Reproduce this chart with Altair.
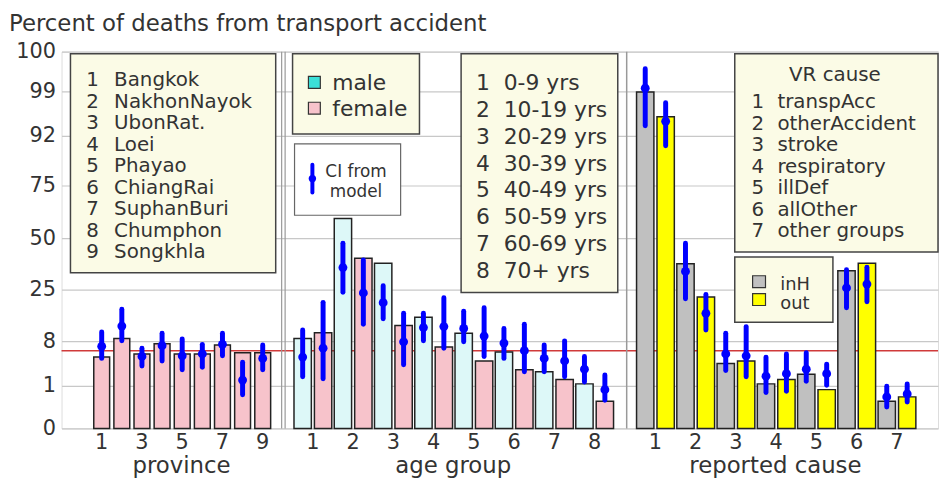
import altair as alt
import pandas as pd

# ---------------- data (percent of deaths from transport accident) ----------------
provinces = ["Bangkok", "NakhonNayok", "UbonRat.", "Loei", "Phayao",
             "ChiangRai", "SuphanBuri", "Chumphon", "Songkhla"]
prov_pct = [5.5, 8.9, 6.0, 7.6, 6.0, 6.0, 7.4, 6.2, 6.2]
prov_est = [7.2, 13.0, 5.6, 7.3, 5.7, 6.0, 7.5, 1.9, 5.3]
prov_lo = [5.3, 8.1, 4.1, 4.9, 3.5, 3.9, 5.7, 0.79, 3.5]
prov_hi = [11.0, 18.5, 6.9, 10.6, 8.7, 7.5, 10.6, 4.7, 7.4]

age_groups = ["0-9 yrs", "10-19 yrs", "20-29 yrs", "30-39 yrs",
              "40-49 yrs", "50-59 yrs", "60-69 yrs", "70+ yrs"]
male_pct = [8.9, 59.3, 37.8, 15.9, 10.6, 6.3, 3.2, 1.3]
male_est = [5.5, 35.7, 20.7, 12.5, 12.2, 7.7, 5.3, 3.6]
male_lo = [2.4, 24.1, 15.4, 8.1, 7.9, 5.3, 3.2, 1.6]
male_hi = [11.7, 47.5, 26.9, 17.2, 17.9, 12.2, 7.4, 5.6]
female_pct = [10.8, 40.2, 13.2, 7.1, 4.9, 3.5, 2.0, 0.64]
female_est = [6.9, 23.9, 7.9, 12.8, 9.7, 6.5, 4.9, 0.91]
female_lo = [2.1, 13.6, 4.3, 6.9, 5.6, 3.2, 2.4, 0.66]
female_hi = [20.8, 39.4, 17.2, 22.3, 19.0, 13.6, 8.1, 2.7]

causes = ["transpAcc", "otherAccident", "stroke", "respiratory",
          "illDef", "allOther", "other groups"]
inH_pct = [98.9, 37.5, 4.5, 1.3, 2.8, 34.1, 0.64]
inH_est = [99.08, 33.8, 6.0, 2.5, 3.6, 25.8, 0.74]
inH_lo = [93.6, 22.0, 3.4, 0.84, 1.7, 19.0, 0.50]
inH_hi = [99.57, 47.5, 10.6, 5.5, 6.2, 34.6, 0.99]
out_pct = [95.0, 22.6, 4.9, 2.0, 0.91, 37.8, 0.74]
out_est = [94.3, 17.2, 5.7, 2.9, 2.9, 27.7, 0.81]
out_lo = [88.6, 11.7, 2.4, 0.87, 1.1, 21.0, 0.62]
out_hi = [97.2, 23.4, 12.8, 6.0, 4.4, 35.9, 1.3]

y_ticks = [0, 1, 8, 25, 50, 75, 92, 99, 100]
overall_pct = 6.5

# ---------------- layout / style ----------------
W, H = 884, 380
Y_RANGE = [380, 337, 292, 240, 188, 135, 85, 40, 0]
PROV_X0, PROV_STEP, PROV_W = 40.5, 20.3, 16
AGE_X0, PAIR_STEP, PAIR_OFF, PAIR_W = 253.5, 40.6, 10.3, 17.5
CAUSE_X0 = 599

FONT = "DejaVu Sans"
TXT = "#333333"
PINK = "#f7c3cb"
CYAN_BAR = "#ddf8f8"
CYAN_KEY = "#3ce0d8"
GRAY = "#c0c0c0"
YELLOW = "#ffff00"
CREAM = "#fbfbe6"
BLUE = "#0000ff"

rows = []
for i in range(len(provinces)):
    rows.append(dict(series="province", xc=PROV_X0 + i * PROV_STEP, w=PROV_W,
                     pct=prov_pct[i], est=prov_est[i], lo=prov_lo[i], hi=prov_hi[i]))
for i in range(len(age_groups)):
    c = AGE_X0 + i * PAIR_STEP
    rows.append(dict(series="male", xc=c - PAIR_OFF, w=PAIR_W,
                     pct=male_pct[i], est=male_est[i], lo=male_lo[i], hi=male_hi[i]))
    rows.append(dict(series="female", xc=c + PAIR_OFF, w=PAIR_W,
                     pct=female_pct[i], est=female_est[i], lo=female_lo[i], hi=female_hi[i]))
for i in range(len(causes)):
    c = CAUSE_X0 + i * PAIR_STEP
    rows.append(dict(series="inH", xc=c - PAIR_OFF, w=PAIR_W,
                     pct=inH_pct[i], est=inH_est[i], lo=inH_lo[i], hi=inH_hi[i]))
    rows.append(dict(series="out", xc=c + PAIR_OFF, w=PAIR_W,
                     pct=out_pct[i], est=out_est[i], lo=out_lo[i], hi=out_hi[i]))
df = pd.DataFrame(rows)
df["x1"] = df["xc"] - df["w"] / 2
df["x2"] = df["xc"] + df["w"] / 2

ticks = []
for k in range(1, len(provinces) + 1, 2):
    ticks.append(dict(xc=PROV_X0 + (k - 1) * PROV_STEP, lab=str(k)))
for g in range(1, len(age_groups) + 1):
    ticks.append(dict(xc=AGE_X0 + (g - 1) * PAIR_STEP, lab=str(g)))
for c in range(1, len(causes) + 1):
    ticks.append(dict(xc=CAUSE_X0 + (c - 1) * PAIR_STEP, lab=str(c)))
ticks_df = pd.DataFrame(ticks)

xs = alt.Scale(domain=[0, W], nice=False, zero=False)
ys = alt.Scale(domain=y_ticks, range=Y_RANGE, nice=False, zero=False)
one = pd.DataFrame({"d": [0]})


def box(x1, x2, y1, y2, fill=CREAM, stroke="#444444", sw=1.5):
    return alt.Chart(one).mark_rect(fill=fill, stroke=stroke, strokeWidth=sw).encode(
        x=alt.value(x1), x2=alt.value(x2), y=alt.value(y1), y2=alt.value(y2))


def label(lines, x, y, size=22, align="left", lh=None, color=TXT):
    props = dict(text=lines, font=FONT, fontSize=size, align=align,
                 baseline="alphabetic", color=color)
    if lh is not None:
        props["lineHeight"] = lh
    return alt.Chart(one).mark_text(**props).encode(x=alt.value(x), y=alt.value(y))


series_dom = ["province", "male", "female", "inH", "out"]
series_col = [PINK, CYAN_BAR, PINK, GRAY, YELLOW]

base = alt.Chart(df)
bars = base.mark_rect(stroke="#222222", strokeWidth=1.5).encode(
    x=alt.X("x1:Q", scale=xs, axis=None),
    x2="x2:Q",
    y=alt.Y("pct:Q", scale=ys, title=None,
            axis=alt.Axis(values=y_ticks, grid=True, gridColor="#c8c8c8", gridWidth=1.2,
                          domain=False, ticks=False, labelFont=FONT, labelFontSize=21,
                          labelColor=TXT, labelPadding=6, labelOverlap=False, title=None)),
    y2=alt.datum(0),
    color=alt.Color("series:N", scale=alt.Scale(domain=series_dom, range=series_col), legend=None),
)
ci = base.mark_rule(color=BLUE, strokeWidth=5, strokeCap="round").encode(
    x=alt.X("xc:Q", scale=xs, axis=None),
    y=alt.Y("lo:Q", scale=ys, title=None),
    y2="hi:Q",
)
dots = base.mark_point(filled=True, shape="circle", size=80, color=BLUE, opacity=1).encode(
    x=alt.X("xc:Q", scale=xs, axis=None),
    y=alt.Y("est:Q", scale=ys, title=None),
)

red = alt.Chart(one).mark_rule(color="#d03a3a", strokeWidth=1.5).encode(
    y=alt.datum(overall_pct), x=alt.value(0), x2=alt.value(W))
sep1 = alt.Chart(one).mark_rule(color="#999999", strokeWidth=1.2).encode(
    x=alt.value(222), y=alt.value(0), y2=alt.value(H))
sep1b = alt.Chart(one).mark_rule(color="#999999", strokeWidth=1.2).encode(
    x=alt.value(225.5), y=alt.value(0), y2=alt.value(H))
sep2 = alt.Chart(one).mark_rule(color="#999999", strokeWidth=1.5).encode(
    x=alt.value(570), y=alt.value(0), y2=alt.value(H))

tick_labels = alt.Chart(ticks_df).mark_text(font=FONT, fontSize=21, color=TXT,
                                            baseline="alphabetic").encode(
    x=alt.X("xc:Q", scale=xs, axis=None), y=alt.value(401), text="lab:N")

layers = [red, sep1, sep1b, sep2, bars, ci, dots, tick_labels]

# section titles + chart title
layers += [
    label("province", 121, 425, size=23, align="center"),
    label("age group", 395, 425, size=23, align="center"),
    label("reported cause", 720, 425, size=23, align="center"),
    label("Percent of deaths from transport accident", -53, -21, size=23),
]

# province legend
layers += [
    box(9, 216, 2, 223),
    label([str(i + 1) for i in range(len(provinces))], 25, 35, size=20, lh=21.7),
    label(provinces, 53, 35, size=20, lh=21.7),
]
# sex legend
layers += [
    box(233, 361, 2, 83),
    box(249, 261, 25, 37, fill=CYAN_KEY, stroke="#333333", sw=1.2),
    box(249, 261, 51, 63, fill=PINK, stroke="#333333", sw=1.2),
    label(["male", "female"], 273, 39, lh=26),
]
# CI legend
layers += [
    box(235, 342, 93, 165, fill="#ffffff", stroke="#666666", sw=1.2),
    alt.Chart(one).mark_rule(color=BLUE, strokeWidth=4, strokeCap="round").encode(
        x=alt.value(253), y=alt.value(114), y2=alt.value(142)),
    alt.Chart(one).mark_point(filled=True, shape="circle", size=55, color=BLUE, opacity=1).encode(
        x=alt.value(253), y=alt.value(128)),
    label(["CI from", "model"], 297, 126, size=17, align="center", lh=21),
]
# age legend
layers += [
    box(403, 561, 2, 243),
    label([str(i + 1) for i in range(len(age_groups))], 418, 39, lh=27),
    label(age_groups, 446, 39, lh=27),
]
# VR cause legend
layers += [
    box(679, 884, 2, 202),
    label("VR cause", 780, 29.5, size=20, align="center"),
    label([str(i + 1) for i in range(len(causes))], 696, 57, size=20, lh=21.7),
    label(causes, 722, 57, size=20, lh=21.7),
]
# inH / out legend
layers += [
    box(679, 778, 207, 273),
    box(697, 710, 226, 238, fill=GRAY, stroke="#333333", sw=1.2),
    box(697, 710, 244, 256, fill=YELLOW, stroke="#333333", sw=1.2),
    label(["inH", "out"], 725, 240, size=18, lh=19.5),
]

chart = alt.layer(*layers).properties(
    width=W, height=H,
    padding={"left": 54, "top": 42, "right": 2, "bottom": 52},
    autosize=alt.AutoSizeParams(type="none"),
).configure_view(stroke="#444444", strokeWidth=1.5).configure(font=FONT)

chart.save("out.html", embed_options={"renderer": "svg", "actions": False})
